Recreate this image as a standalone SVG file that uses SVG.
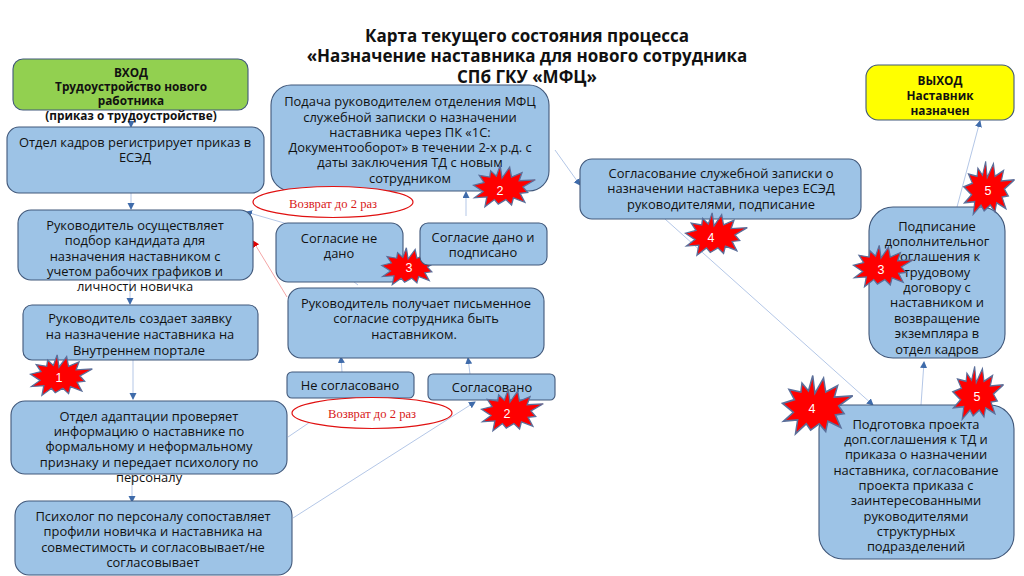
<svg xmlns="http://www.w3.org/2000/svg" width="1024" height="576" viewBox="0 0 1024 576">
<style>
text{font-family:"Open Sans","Noto Sans",sans-serif;font-size:12.9px;fill:#111;text-anchor:middle}
.b{fill:#9dc3e6;stroke:#41587a;stroke-width:1.1}
.t{font-weight:700;font-size:17px}
.h{font-weight:700;font-size:11.8px}
.c{fill:none;stroke:#b4c7e7;stroke-width:1;marker-end:url(#a)}
.r{fill:none;stroke:#f4a6a6;stroke-width:1;marker-end:url(#ar)}
.e{fill:#fff;stroke:#e01010;stroke-width:1.2}
.et{font-family:"Liberation Serif",serif;font-size:12.6px;fill:#d81818}
.s{fill:#f00;stroke:#5b6f9a;stroke-width:1.4;stroke-linejoin:miter}
.n{font-family:"Liberation Sans",sans-serif;font-size:12.5px;fill:#fff}
</style>
<defs>
<marker id="a" markerWidth="8" markerHeight="8" refX="6" refY="3.5" orient="auto" markerUnits="userSpaceOnUse"><path d="M0 0L7 3.5L0 7z" fill="#3f6baa"/></marker>
<marker id="ar" markerWidth="8" markerHeight="8" refX="6" refY="3.5" orient="auto" markerUnits="userSpaceOnUse"><path d="M0 0L7 3.5L0 7z" fill="#e00000"/></marker>
<polygon id="star" points="-1,-10 7,-22 9,-11 20,-16 17,-7 34,-8 21,0 26,6 18,7 23,17 11,12 9,20 3,14 -5,19 -9,14 -19,22 -17,11 -30,12 -21,5 -31,-2 -20,-5 -25,-13 -14,-11 -13,-18 -7,-12 -3,-24"/>
</defs>
<text class="t" x="527" y="42">Карта текущего состояния процесса</text>
<text class="t" x="527" y="62">«Назначение наставника для нового сотрудника</text>
<text class="t" x="527" y="83">СПб ГКУ «МФЦ»</text>

<g id="connectors">
<path class="c" d="M131 110V127"/>
<path class="c" d="M131 193V209"/>
<path class="c" d="M130 280V304"/>
<path class="c" d="M133 360V399"/>
<path class="c" d="M132 474V502"/>
<path class="c" d="M288 437L344 399"/>
<path class="c" d="M293 518L475 402"/>
<path class="c" d="M342 372L341 357"/>
<path class="c" d="M470 374L468 358"/>
<path class="c" d="M466 216V192"/>
<path class="c" d="M358 285L330 263"/>
<path class="c" d="M305 229L246 212"/>
<path class="r" d="M287 297L253 241"/>
<path class="c" d="M555 150L580 185"/>
<path class="c" d="M665 219L873 405"/>
<path class="c" d="M921 405L924 362"/>
<path class="c" d="M957 207L980 121"/>
</g>

<g id="n-vhod"><rect class="b" style="fill:#92d050" x="13" y="59" width="235" height="51" rx="10"/>
<text class="h" x="131" y="77">ВХОД</text><text class="h" x="131" y="91">Трудоустройство нового</text><text class="h" x="131" y="105">работника</text><text class="h" x="131" y="120">(приказ о трудоустройстве)</text></g>
<g id="n-kadry"><rect class="b" x="7" y="127" width="257" height="66" rx="12"/>
<text x="135" y="147">Отдел кадров регистрирует приказ в</text><text x="135" y="162">ЕСЭД</text></g>
<g id="n-podacha"><rect class="b" x="271" y="85" width="278" height="106" rx="20"/>
<text x="410" y="106">Подача руководителем отделения МФЦ</text><text x="410" y="122">служебной записки  о назначении</text><text x="410" y="137">наставника через ПК «1С:</text><text x="410" y="152">Документооборот» в течении 2-х р.д. с</text><text x="410" y="167">даты заключения ТД с новым</text><text x="410" y="183">сотрудником</text></g>
<g id="n-podbor"><rect class="b" x="18" y="210" width="235" height="70" rx="13"/>
<text x="135" y="230">Руководитель осуществляет</text><text x="135" y="245">подбор кандидата для</text><text x="135" y="261">назначения наставником с</text><text x="135" y="276">учетом рабочих графиков и</text><text x="135" y="291">личности новичка</text></g>
<g id="n-net"><rect class="b" x="276" y="223" width="127" height="59" rx="12"/>
<text x="339" y="243">Согласие не</text><text x="339" y="258">дано</text></g>
<g id="star-3a"><use href="#star" class="s" transform="translate(409 267) scale(.88 .8)"/><text class="n" x="409" y="272">3</text></g>
<g id="n-da"><rect class="b" x="420" y="223" width="127" height="42" rx="8"/>
<text x="483" y="242">Согласие дано и</text><text x="483" y="257">подписано</text></g>
<g id="n-pismo"><rect class="b" x="288" y="288" width="256" height="70" rx="13"/>
<text x="416" y="308">Руководитель получает письменное</text><text x="416" y="323">согласие сотрудника быть</text><text x="414" y="339">наставником.</text></g>
<g id="n-zayavka"><rect class="b" x="23" y="305" width="235" height="55" rx="9"/>
<text x="140" y="323">Руководитель создает заявку</text><text x="140" y="339">на назначение наставника на</text><text x="139" y="355">Внутреннем портале</text></g>
<g id="n-nesogl"><rect class="b" x="287" y="372" width="127" height="26" rx="5"/><text x="350" y="390">Не согласовано</text></g>
<g id="n-sogl"><rect class="b" x="428" y="374" width="127" height="26" rx="5"/><text x="492" y="392">Согласовано</text></g>
<g id="n-adapt"><rect class="b" x="11" y="401" width="276" height="73" rx="14"/>
<text x="149" y="421">Отдел адаптации проверяет</text><text x="149" y="436">информацию о наставнике по</text><text x="149" y="451">формальному и неформальному</text><text x="149" y="467">признаку и передает психологу по</text><text x="149" y="482">персоналу</text></g>
<g id="n-psy"><rect class="b" x="15" y="501" width="277" height="74" rx="14"/>
<text x="153" y="521">Психолог по персоналу сопоставляет</text><text x="153" y="536">профили новичка и наставника на</text><text x="153" y="552">совместимость и согласовывает/не</text><text x="153" y="567">согласовывает</text></g>
<g id="n-esed"><rect class="b" x="580" y="159" width="281" height="60" rx="12"/>
<text x="721" y="178">Согласование служебной записки о</text><text x="721" y="193">назначении наставника через ЕСЭД</text><text x="721" y="209">руководителями, подписание</text></g>
<g id="n-podpis"><rect class="b" x="869" y="207" width="136" height="151" rx="24"/>
<text x="937" y="231">Подписание</text><text x="937" y="246">дополнительног</text><text x="937" y="261">соглашения к</text><text x="937" y="277">трудовому</text><text x="937" y="292">договору с</text><text x="937" y="307">наставником и</text><text x="937" y="323">возвращение</text><text x="937" y="338">экземпляра в</text><text x="937" y="354">отдел кадров</text></g>
<g id="n-proekt"><rect class="b" x="819" y="405" width="195" height="154" rx="24"/>
<text x="916" y="429">Подготовка проекта</text><text x="916" y="444">доп.соглашения к ТД и</text><text x="916" y="459">приказа о назначении</text><text x="916" y="475">наставника, согласование</text><text x="916" y="490">проекта приказа с</text><text x="916" y="505">заинтересованными</text><text x="916" y="521">руководителями</text><text x="916" y="536">структурных</text><text x="916" y="551">подразделений</text></g>
<g id="n-vyhod"><rect class="b" style="fill:#ff0" x="866" y="65" width="148" height="55" rx="12"/>
<text class="h" x="940" y="85">ВЫХОД</text><text class="h" x="940" y="100">Наставник</text><text class="h" x="940" y="115">назначен</text></g>

<g id="ell-1"><ellipse class="e" cx="333" cy="202" rx="80" ry="15.5"/><text class="et" x="333" y="208">Возврат до 2 раз</text></g>
<g id="ell-2"><ellipse class="e" cx="372" cy="413" rx="80" ry="15.5"/><text class="et" x="372" y="418">Возврат до 2 раз</text></g>

<g id="star-1"><use href="#star" class="s" transform="translate(60 376) scale(.95 .88)"/><text class="n" x="59" y="382">1</text></g>
<g id="star-2a"><use href="#star" class="s" transform="translate(503 187) scale(.95 .9)"/><text class="n" x="500" y="195">2</text></g>
<g id="star-2b"><use href="#star" class="s" transform="translate(511 411) scale(.95 .9)"/><text class="n" x="507" y="418">2</text></g>
<g id="star-4a"><use href="#star" class="s" transform="translate(715 235) scale(.95 .92)"/><text class="n" x="711" y="242">4</text></g>
<g id="star-3b"><use href="#star" class="s" transform="translate(882 267) scale(.92 .9)"/><text class="n" x="881" y="274">3</text></g>
<g id="star-5a"><use href="#star" class="s" transform="translate(988 189) scale(.78 1.15)"/><text class="n" x="988" y="195">5</text></g>
<g id="star-5b"><use href="#star" class="s" transform="translate(977 394) scale(.78 1.15)"/><text class="n" x="977" y="401">5</text></g>
<g id="star-4b"><use href="#star" class="s" transform="translate(816 406) scale(1.08 1.27)"/><text class="n" x="812" y="413">4</text></g>
</svg>
